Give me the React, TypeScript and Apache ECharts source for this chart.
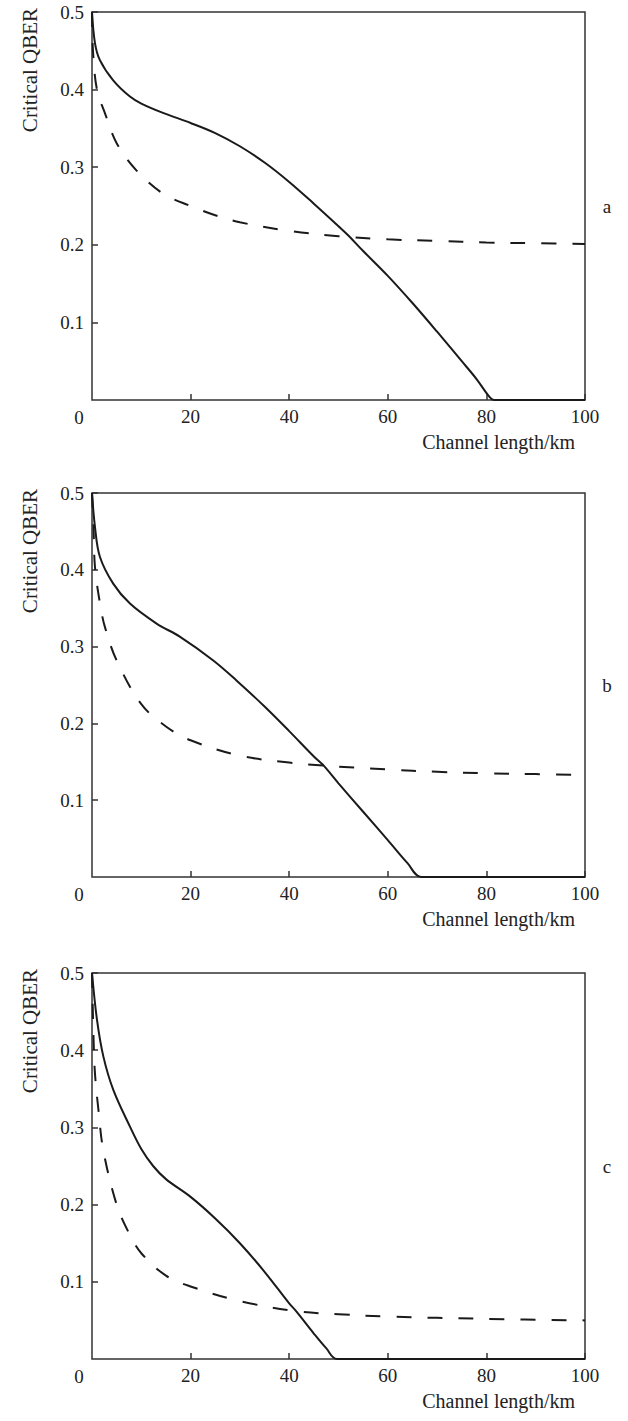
import React, { useEffect, useRef } from "react";
import * as echarts from "echarts";

const xTicks = [0, 20, 40, 60, 80, 100];
const yTicks = [0, 0.1, 0.2, 0.3, 0.4, 0.5];
const panelNames = ["a", "b", "c"];

const solidA = [[0,0.5],[0.6,0.46],[1.6,0.438],[4.3,0.412],[7.7,0.391],[10,0.382],[14.4,0.37],[20,0.357],[25,0.344],[30,0.327],[35,0.306],[40,0.281],[45,0.253],[50,0.224],[52,0.212],[55,0.192],[60,0.16],[65,0.125],[70,0.088],[75,0.05],[78,0.027],[80.5,0.005],[81.5,0],[100,0]];
const dashA = [[0,0.5],[0.2,0.45],[1,0.4],[2.6,0.37],[5,0.331],[9,0.296],[14.4,0.266],[20,0.25],[25,0.238],[30,0.229],[40,0.218],[50,0.211],[60,0.207],[70,0.205],[80,0.203],[90,0.202],[100,0.201]];

const solidB = [[0,0.5],[0.6,0.456],[1.6,0.417],[4.3,0.382],[7.7,0.356],[13.1,0.33],[17.8,0.313],[24.6,0.282],[29.3,0.256],[35,0.222],[40,0.19],[45,0.157],[47,0.145],[50,0.122],[55,0.085],[60,0.048],[64,0.018],[66.8,0],[100,0]];
const dashB = [[0,0.5],[0.3,0.456],[0.6,0.404],[1.6,0.357],[2.6,0.326],[5,0.282],[10,0.225],[15,0.196],[20,0.178],[30,0.158],[40,0.149],[47,0.145],[60,0.14],[70,0.137],[80,0.135],[90,0.134],[100,0.133]];

const solidC = [[0,0.5],[1,0.44],[2.3,0.392],[4.3,0.349],[7.7,0.301],[10,0.272],[12.4,0.25],[15,0.233],[20,0.21],[25,0.182],[30,0.15],[35,0.113],[40,0.072],[41.4,0.062],[45,0.033],[47.5,0.014],[49.7,0],[100,0]];
const dashC = [[0,0.5],[0.3,0.418],[0.6,0.37],[1.3,0.323],[2.3,0.27],[5,0.2],[7.5,0.163],[10,0.137],[15,0.108],[20,0.094],[30,0.075],[41.4,0.062],[50,0.058],[60,0.055],[80,0.052],[100,0.05]];

const solids = [solidA, solidB, solidC];
const dashes = [dashA, dashB, dashC];

const FONT = "Times New Roman";
const INK = "#222";

const grids = [
  { left: 92, top: 12, width: 493, height: 388 },
  { left: 92, top: 493, width: 493, height: 384 },
  { left: 92, top: 973, width: 493, height: 386 },
];

export default function App() {
  const ref = useRef<HTMLDivElement>(null);
  useEffect(() => {
    if (!ref.current) return;
    const chart = echarts.init(ref.current, null, { renderer: "svg" });
    const graphic: any[] = [];
    grids.forEach((g, i) => {
      const bottom = g.top + g.height;
      graphic.push({ type: "text", x: 79, y: bottom + 17, style: { text: String(xTicks[0]), fontSize: 19, fontFamily: FONT, fill: INK, align: "center", verticalAlign: "middle" } });
      graphic.push({ type: "text", x: 575, y: bottom + 42, style: { text: "Channel length/km", fontSize: 20, fontFamily: FONT, fill: INK, align: "right", verticalAlign: "middle" } });
      graphic.push({ type: "text", x: 30, y: g.top + 58, rotation: Math.PI / 2, style: { text: "Critical QBER", fontSize: 21, fontFamily: FONT, fill: INK, align: "center", verticalAlign: "middle" } });
      graphic.push({ type: "text", x: 607, y: g.top + g.height / 2, style: { text: panelNames[i], fontSize: 19, fontFamily: FONT, fill: INK, align: "center", verticalAlign: "middle" } });
    });
    const option: any = {
      animation: false,
      backgroundColor: "#fff",
      textStyle: { fontFamily: FONT },
      grid: grids.map((g) => ({ ...g, show: true, borderColor: "#333", borderWidth: 1.5, backgroundColor: "transparent" })),
      xAxis: grids.map((_, i) => ({
        type: "value", gridIndex: i, min: xTicks[0], max: xTicks[xTicks.length - 1], interval: 20,
        axisLine: { show: false },
        axisTick: { show: true, inside: true, length: 6, lineStyle: { color: "#333", width: 1.5 } },
        splitLine: { show: false },
        axisLabel: { showMinLabel: false, color: INK, fontFamily: FONT, fontSize: 19, margin: 7 },
      })),
      yAxis: grids.map((_, i) => ({
        type: "value", gridIndex: i, min: yTicks[0], max: yTicks[yTicks.length - 1], interval: 0.1,
        axisLine: { show: false },
        axisTick: { show: true, inside: true, length: 6, lineStyle: { color: "#333", width: 1.5 } },
        splitLine: { show: false },
        axisLabel: { showMinLabel: false, color: INK, fontFamily: FONT, fontSize: 19, margin: 8, formatter: (v: number) => v.toFixed(1) },
      })),
      series: [
        ...solids.map((d, i) => ({
          type: "line", xAxisIndex: i, yAxisIndex: i, data: d, showSymbol: false, smooth: 0.35,
          lineStyle: { color: "#1a1a1a", width: 2 }, clip: true,
        })),
        ...dashes.map((d, i) => ({
          type: "line", xAxisIndex: i, yAxisIndex: i, data: d, showSymbol: false, smooth: 0.35,
          lineStyle: { color: "#1a1a1a", width: 2, type: [15, 16] }, clip: true,
        })),
      ],
      graphic,
    };
    chart.setOption(option);
    return () => chart.dispose();
  }, []);
  return <div ref={ref} style={{ position: "absolute", left: 0, top: 0, width: 628, height: 1421 }} />;
}
